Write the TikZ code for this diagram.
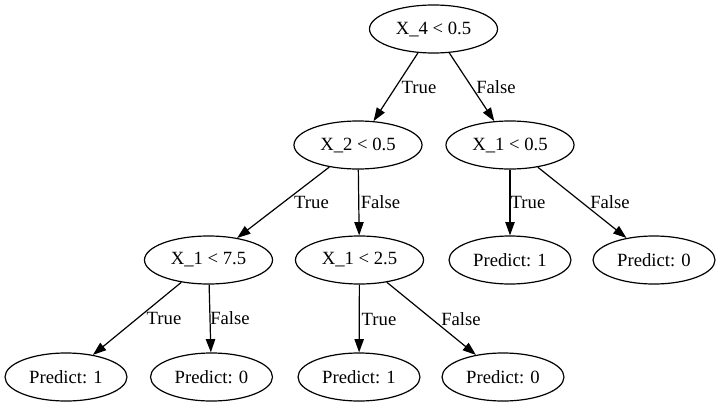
\documentclass[tikz,border=0pt]{standalone}
\usepackage{fontspec}
\setmainfont{Liberation Serif}
\usetikzlibrary{shapes.geometric,arrows.meta}
\begin{document}
\begin{tikzpicture}[x=0.75pt,y=-0.75pt,
  every node/.style={font=\fontsize{14pt}{16pt}\selectfont},
  cond/.style={ellipse,draw,line width=0.9pt,inner sep=0pt,minimum width=96pt,minimum height=36pt},
  leaf/.style={ellipse,draw,line width=0.9pt,inner sep=0pt,minimum width=91.5pt,minimum height=36pt},
  edge/.style={line width=0.9pt,-{Triangle[length=10pt,width=7pt]}},
  lab/.style={inner sep=0pt}]
\useasboundingbox[fill=white] (0,0) rectangle (721,407);
\node[cond] (root) at (433.5,29) {X\_4 < 0.5};
\node[cond] (x2) at (358,145) {X\_2 < 0.5};
\node[cond] (x1a) at (510,145) {X\_1 < 0.5};
\node[cond] (x1b) at (208.5,260) {X\_1 < 7.5};
\node[cond] (x1c) at (359.5,260) {X\_1 < 2.5};
\node[leaf] (p1) at (510,260) {Predict: 1};
\node[leaf] (p2) at (654,260) {Predict: 0};
\node[leaf] (p3) at (66,377) {Predict: 1};
\node[leaf] (p4) at (211.5,377) {Predict: 0};
\node[leaf] (p5) at (359,377) {Predict: 1};
\node[leaf] (p6) at (503,377) {Predict: 0};
\draw[edge] (root) -- (x2);
\draw[edge] (root) -- (x1a);
\draw[edge] (x2) -- (x1b);
\draw[edge] (x2) -- (x1c);
\draw[edge] (x1a) -- (p1);
\draw[edge] (x1a) -- (p2);
\draw[edge] (x1b) -- (p3);
\draw[edge] (x1b) -- (p4);
\draw[edge] (x1c) -- (p5);
\draw[edge] (x1c) -- (p6);
\node[lab] (l1) at (419,87) {True};
\node[lab] (l2) at (496,87) {False};
\node[lab] (l3) at (311.5,202) {True};
\node[lab] (l4) at (380.5,202) {False};
\node[lab] (l5) at (528,202) {True};
\node[lab] (l6) at (610,202) {False};
\node[lab] (l7) at (164,318) {True};
\node[lab] (l8) at (230,318) {False};
\node[lab] (l9) at (379,319) {True};
\node[lab] (l10) at (461,319) {False};
\end{tikzpicture}
\end{document}
